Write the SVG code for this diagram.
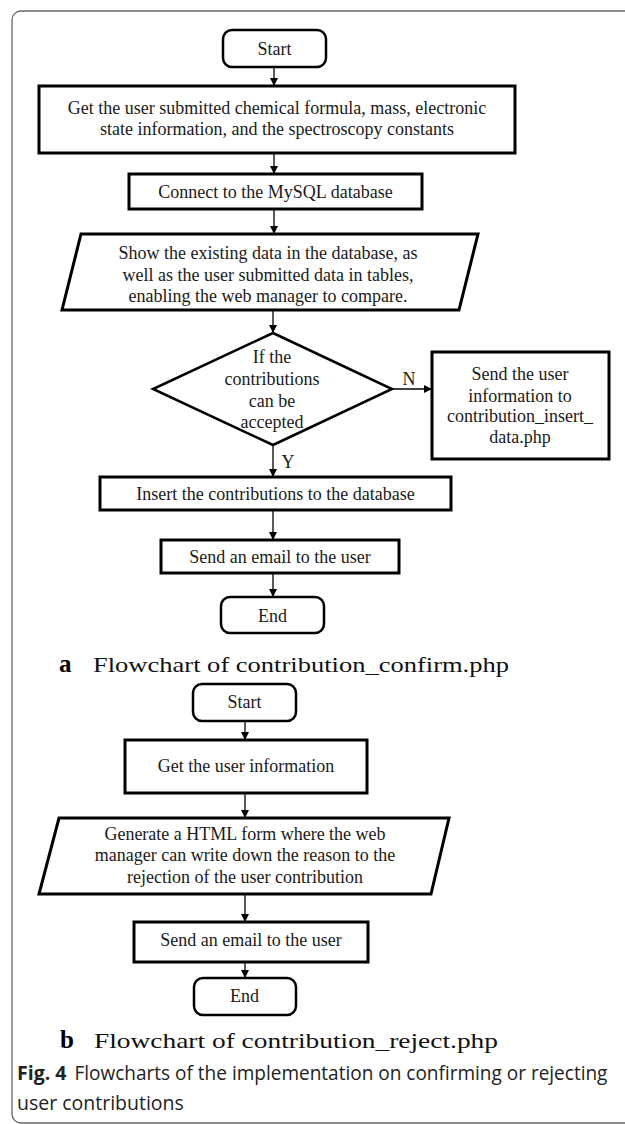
<svg xmlns="http://www.w3.org/2000/svg" width="625" height="1124" viewBox="0 0 625 1124">
<style>
.t{font-family:"Liberation Serif","Times New Roman",serif;font-size:18px;fill:#1a1a1a;text-anchor:middle}
.box{fill:#fff;stroke:#000;stroke-width:3}
.term{fill:#fff;stroke:#000;stroke-width:2.5}
.c{stroke:#000;stroke-width:1.3;fill:none}
.cap{font-family:"Liberation Serif","Times New Roman",serif;font-size:22px;fill:#111}
.capb{font-family:"Liberation Serif","Times New Roman",serif;font-size:25px;font-weight:bold;fill:#000}
.fig{font-family:"Open Sans","Noto Sans",sans-serif;font-size:19.5px;fill:#222}
</style>
<defs>
<marker id="ah" markerUnits="userSpaceOnUse" markerWidth="9" markerHeight="8" refX="8" refY="4" orient="auto">
<path d="M0,0 L8,4 L0,8 z" fill="#000"/>
</marker>
</defs>
<rect x="12" y="11" width="640" height="1112" rx="9" fill="#fff" stroke="#666" stroke-width="1.3"/>

<g id="connectors">
<line class="c" x1="274" y1="67" x2="274" y2="86" marker-end="url(#ah)"/>
<line class="c" x1="274" y1="153" x2="274" y2="174" marker-end="url(#ah)"/>
<line class="c" x1="274" y1="209" x2="274" y2="234" marker-end="url(#ah)"/>
<line class="c" x1="273" y1="310" x2="273" y2="333" marker-end="url(#ah)"/>
<line class="c" x1="392" y1="389" x2="432" y2="389" marker-end="url(#ah)"/>
<line class="c" x1="273" y1="445" x2="273" y2="477" marker-end="url(#ah)"/>
<line class="c" x1="273" y1="510" x2="273" y2="540" marker-end="url(#ah)"/>
<line class="c" x1="273" y1="573" x2="273" y2="597" marker-end="url(#ah)"/>
<line class="c" x1="245" y1="721" x2="245" y2="740" marker-end="url(#ah)"/>
<line class="c" x1="245" y1="793" x2="245" y2="818" marker-end="url(#ah)"/>
<line class="c" x1="245" y1="894" x2="245" y2="922" marker-end="url(#ah)"/>
<line class="c" x1="245" y1="962" x2="245" y2="978" marker-end="url(#ah)"/>
<text class="t" x="409" y="385">N</text>
<text class="t" x="288" y="468">Y</text>
</g>

<g id="start_a">
<rect class="term" x="223" y="30" width="103" height="37" rx="9"/>
<text class="t" x="274.5" y="55">Start</text>
</g>
<g id="get_input">
<rect class="box" x="39" y="86" width="476" height="67"/>
<text class="t" x="277" y="114">Get the user submitted chemical formula, mass, electronic</text>
<text class="t" x="277" y="135">state information, and the spectroscopy constants</text>
</g>
<g id="connect_db">
<rect class="box" x="129" y="174" width="293" height="35"/>
<text class="t" x="275.5" y="198">Connect to the MySQL database</text>
</g>
<g id="show_data">
<polygon class="box" points="81,234 478,234 459,310 62,310"/>
<text class="t" x="268" y="259">Show the existing data in the database, as</text>
<text class="t" x="268" y="281">well as the user submitted data in tables,</text>
<text class="t" x="268" y="302">enabling the web manager to compare.</text>
</g>
<g id="decision">
<polygon class="term" points="273,333 392,389 273,445 153,389"/>
<text class="t" x="272" y="363">If the</text>
<text class="t" x="272" y="385">contributions</text>
<text class="t" x="272" y="407">can be</text>
<text class="t" x="272" y="428">accepted</text>
</g>
<g id="send_insert">
<rect class="box" x="432" y="352" width="177" height="107"/>
<text class="t" x="520" y="380">Send the user</text>
<text class="t" x="520" y="402">information to</text>
<text class="t" x="520" y="422">contribution_insert_</text>
<text class="t" x="520" y="443">data.php</text>
</g>
<g id="insert_db">
<rect class="box" x="100" y="477" width="351" height="33"/>
<text class="t" x="275.5" y="500">Insert the contributions to the database</text>
</g>
<g id="email_a">
<rect class="box" x="161" y="540" width="238" height="33"/>
<text class="t" x="280" y="563">Send an email to the user</text>
</g>
<g id="end_a">
<rect class="term" x="221" y="597" width="103" height="36" rx="9"/>
<text class="t" x="272.5" y="622">End</text>
</g>
<g id="caption_a">
<text class="capb" x="59" y="672">a</text>
<text class="cap" x="93" y="672" textLength="416" lengthAdjust="spacingAndGlyphs">Flowchart of contribution_confirm.php</text>
</g>

<g id="start_b">
<rect class="term" x="193" y="684" width="103" height="37" rx="9"/>
<text class="t" x="244.5" y="708">Start</text>
</g>
<g id="get_user">
<rect class="box" x="125" y="740" width="242" height="53"/>
<text class="t" x="246" y="772">Get the user information</text>
</g>
<g id="html_form">
<polygon class="box" points="59,818 449,818 431,894 39,894"/>
<text class="t" x="245" y="840">Generate a HTML form where the web</text>
<text class="t" x="245" y="861">manager can write down the reason to the</text>
<text class="t" x="245" y="883">rejection of the user contribution</text>
</g>
<g id="email_b">
<rect class="box" x="134" y="922" width="234" height="40"/>
<text class="t" x="251" y="946">Send an email to the user</text>
</g>
<g id="end_b">
<rect class="term" x="194" y="978" width="102" height="37" rx="9"/>
<text class="t" x="244.5" y="1002">End</text>
</g>
<g id="caption_b">
<text class="capb" x="60" y="1048">b</text>
<text class="cap" x="94" y="1048" textLength="404" lengthAdjust="spacingAndGlyphs">Flowchart of contribution_reject.php</text>
</g>
<g id="figure_caption">
<text class="fig" x="17" y="1080"><tspan font-weight="bold">Fig. 4</tspan><tspan dx="8" textLength="533" lengthAdjust="spacingAndGlyphs">Flowcharts of the implementation on confirming or rejecting</tspan></text>
<text class="fig" x="17" y="1110">user contributions</text>
</g>
</svg>
